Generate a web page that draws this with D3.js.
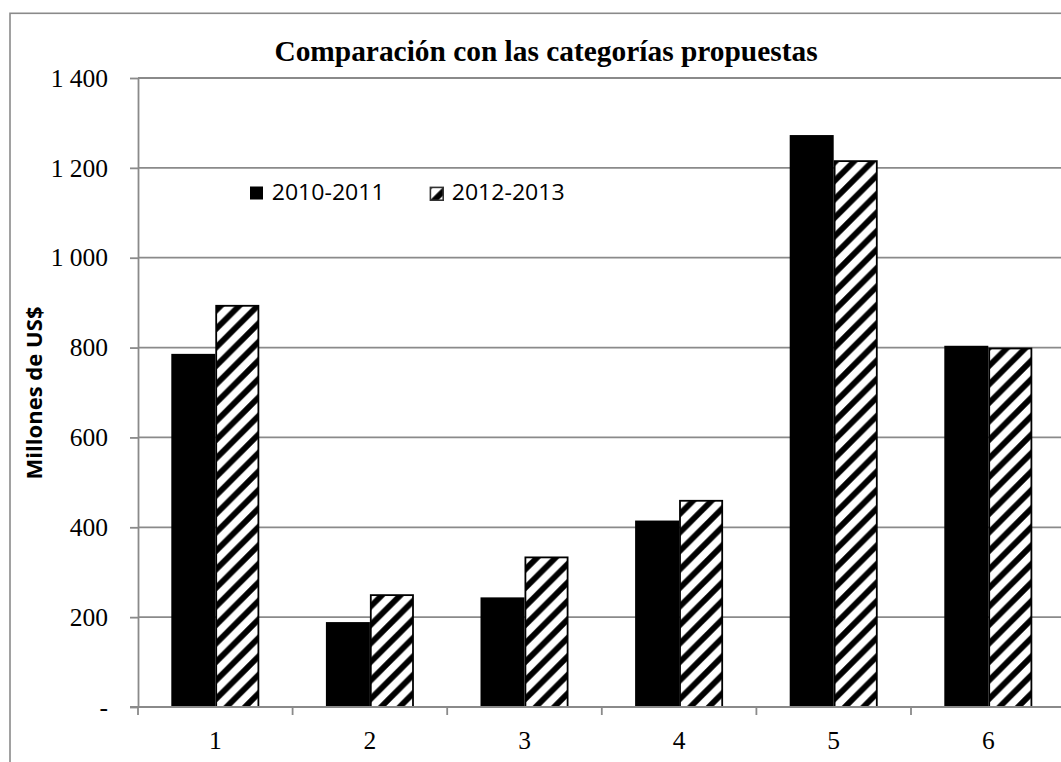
<!DOCTYPE html>
<html>
<head>
<meta charset="utf-8">
<script src="https://cdn.jsdelivr.net/npm/d3@7"></script>
<style>
  html, body { margin: 0; padding: 0; background: #ffffff; overflow: hidden; }
  svg { display: block; }
</style>
</head>
<body>
<svg id="chart" width="1061" height="762"></svg>
<script>
// ---- data ----
const categories = ["1", "2", "3", "4", "5", "6"];
const seriesNames = ["2010-2011", "2012-2013"];
const values2010 = [786, 189, 244, 415, 1273, 804];
const values2012 = [895, 251, 335, 461, 1217, 800];
const yTickValues = [0, 200, 400, 600, 800, 1000, 1200, 1400];
const yTickLabels = ["-", "200", "400", "600", "800", "1 000", "1 200", "1 400"];
const titleText = "Comparación con las categorías propuestas";
const yTitleText = "Millones de US$";

const seriesValues = [values2010, values2012];

// ---- layout ----
const svg = d3.select("#chart");
const plotLeft = 138, plotTop = 78, plotBottom = 707;
const bandW = 154.6;
const plotRight = plotLeft + bandW * categories.length;
const gridColor = "#8a8a8a";
const serif = "'Liberation Serif', 'Times New Roman', serif";
const sans = "'Open Sans', 'Noto Sans', sans-serif";

// pattern
const defs = svg.append("defs");
const P = 18.5;
const pat = defs.append("pattern")
  .attr("id", "hatch")
  .attr("patternUnits", "userSpaceOnUse")
  .attr("width", P).attr("height", P);
pat.append("rect").attr("width", P).attr("height", P).attr("fill", "#fff");
pat.append("path")
  .attr("d", `M${-P/4},${P/4} L${P/4},${-P/4} M0,${P} L${P},0 M${P*0.75},${P*1.25} L${P*1.25},${P*0.75}`)
  .attr("stroke", "#000").attr("stroke-width", 5.8).attr("fill", "none");

// outer frame (extends beyond visible area)
svg.append("rect")
  .attr("x", 10).attr("y", 13.3)
  .attr("width", 1100).attr("height", 800)
  .attr("fill", "none").attr("stroke", gridColor).attr("stroke-width", 1.6);

// scales
const x0 = d3.scaleBand().domain(categories).range([plotLeft, plotRight]).padding(0);
const x1 = d3.scaleBand().domain(seriesNames).range([0, x0.bandwidth()])
  .paddingInner(0).paddingOuter(0.757);
const y = d3.scaleLinear().domain([0, 1400]).range([plotBottom, plotTop]);

// gridlines
svg.append("g").selectAll("line")
  .data(yTickValues.filter(v => v > 0))
  .join("line")
  .attr("x1", plotLeft).attr("x2", plotRight + 20)
  .attr("y1", d => y(d)).attr("y2", d => y(d))
  .attr("stroke", gridColor).attr("stroke-width", 1.8);

// bars
const groups = svg.append("g").selectAll("g")
  .data(categories)
  .join("g")
  .attr("transform", d => `translate(${x0(d)},0)`);

groups.selectAll("rect")
  .data((c, i) => seriesNames.map((s, k) => ({ s, v: seriesValues[k][i], k })))
  .join("rect")
  .attr("x", d => x1(d.s) + (d.k === 1 ? 0.9 : 0))
  .attr("width", d => x1.bandwidth() - (d.k === 1 ? 1.8 : 0))
  .attr("y", d => y(d.v) + (d.k === 1 ? 0.9 : 0))
  .attr("height", d => y(0) - y(d.v) - (d.k === 1 ? 0.9 : 0))
  .attr("fill", d => d.k === 0 ? "#000" : "url(#hatch)")
  .attr("stroke", d => d.k === 0 ? "none" : "#000")
  .attr("stroke-width", 1.8);

// y axis
const yAxis = svg.append("g")
  .attr("transform", `translate(${plotLeft},0)`)
  .call(d3.axisLeft(y)
    .tickValues(yTickValues)
    .tickFormat((d, i) => yTickLabels[i])
    .tickSize(8).tickSizeOuter(0).tickPadding(22));
yAxis.select(".domain").attr("stroke", gridColor).attr("stroke-width", 1.8);
yAxis.selectAll(".tick line").attr("stroke", gridColor).attr("stroke-width", 1.8);
yAxis.selectAll(".tick text")
  .attr("fill", "#000")
  .style("font-family", serif).style("font-size", "25.5px");

// x axis
svg.append("line")
  .attr("x1", plotLeft - 8).attr("x2", plotRight + 20)
  .attr("y1", y(0)).attr("y2", y(0))
  .attr("stroke", gridColor).attr("stroke-width", 1.8);
const boundaries = categories.map(c => x0(c)).concat([x0.range()[1]]);
svg.append("g").selectAll("line")
  .data(boundaries)
  .join("line")
  .attr("x1", d => d).attr("x2", d => d)
  .attr("y1", y(0)).attr("y2", y(0) + 8)
  .attr("stroke", gridColor).attr("stroke-width", 1.8);

const xAxis = svg.append("g")
  .attr("transform", `translate(0,${y(0)})`)
  .call(d3.axisBottom(x0).tickSize(0).tickPadding(24));
xAxis.select(".domain").remove();
xAxis.selectAll(".tick text")
  .attr("fill", "#000")
  .style("font-family", serif).style("font-size", "25.5px");

// title
svg.append("text")
  .attr("x", 546).attr("y", 61)
  .attr("text-anchor", "middle")
  .style("font-family", serif).style("font-weight", "bold").style("font-size", "29.4px")
  .attr("fill", "#000")
  .text(titleText);

// y title
svg.append("text")
  .attr("transform", `translate(41.5,393) rotate(-90)`)
  .attr("text-anchor", "middle")
  .attr("textLength", 173).attr("lengthAdjust", "spacingAndGlyphs")
  .style("font-family", sans).style("font-weight", "bold").style("font-size", "20.5px")
  .attr("fill", "#000")
  .text(yTitleText);

// legend
const legendX = [250, 429.5];
const legend = svg.append("g").selectAll("g")
  .data(seriesNames)
  .join("g")
  .attr("transform", (d, i) => `translate(${legendX[i]},186.5)`);
legend.append("rect")
  .attr("x", (d, i) => i === 1 ? 0.9 : 0)
  .attr("y", (d, i) => i === 1 ? 0.9 : 0)
  .attr("width", (d, i) => i === 1 ? 12.8 : 13)
  .attr("height", (d, i) => i === 1 ? 12.8 : 13)
  .attr("fill", (d, i) => i === 0 ? "#000" : "url(#hatch)")
  .attr("stroke", (d, i) => i === 0 ? "none" : "#333")
  .attr("stroke-width", 1.6);
legend.append("text")
  .attr("x", (d, i) => i === 0 ? 21.7 : 22.2)
  .attr("y", 13)
  .attr("textLength", 113).attr("lengthAdjust", "spacingAndGlyphs")
  .style("font-family", sans).style("font-size", "21.5px")
  .attr("fill", "#000")
  .text(d => d);
</script>
</body>
</html>
